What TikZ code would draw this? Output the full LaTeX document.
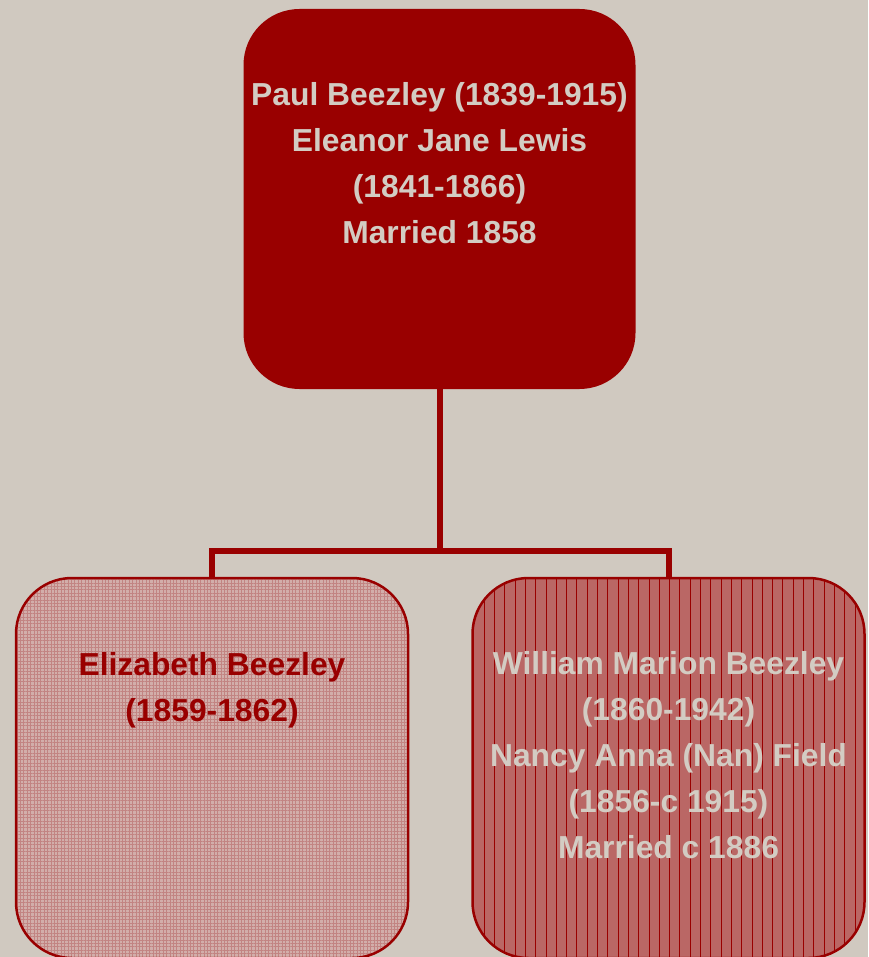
\documentclass[tikz,border=0pt]{standalone}
\usepackage{fontspec}
\setmainfont{Liberation Sans}
\usetikzlibrary{patterns.meta}
\definecolor{bg}{HTML}{D0C9C0}
\definecolor{dred}{HTML}{990000}
\definecolor{lighttxt}{HTML}{D3CCC3}
\definecolor{pinkbase}{HTML}{D2AEAA}
\definecolor{pinkline}{HTML}{C28482}
\definecolor{redbase}{HTML}{BA6765}
\tikzset{
  box/.style={rectangle, rounded corners=56pt, inner sep=0pt, outer sep=0pt,
    minimum width=392pt, minimum height=380pt},
  topbox/.style={box, fill=dred},
  gridbox/.style={box, preaction={fill=pinkbase},
    pattern={Hatch[angle=0, distance=3.4pt, line width=0.8pt]}, pattern color=pinkline,
    draw=dred, line width=2.5pt},
  stripebox/.style={box, preaction={fill=redbase},
    pattern={Lines[angle=90, distance=10.3pt, line width=0.8pt]}, pattern color=dred,
    draw=dred, line width=2.5pt},
  label/.style={align=center, inner sep=0pt, font=\fontsize{31.8}{46}\selectfont\bfseries},
  conn/.style={draw=dred, line width=6pt},
}
\begin{document}
\begin{tikzpicture}[x=1pt, y=-1pt]
\fill[bg] (0,0) rectangle (868,957);
\useasboundingbox (0,0) rectangle (868,957);
\node[topbox] (top) at (439.5,199) {};
\node[gridbox] (left) at (212,768) {};
\node[stripebox] (right) at (668.5,768) {};
\coordinate (j) at (439.5,551);
\draw[conn] (top.south) -- (j);
\draw[conn] (left.north) |- (j) -| (right.north);
\node[label, text=lighttxt] (toptext) at (439.5,163.5) {Paul Beezley (1839-1915)\\Eleanor Jane Lewis\\(1841-1866)\\Married 1858};
\node[label, text=dred] (lefttext) at (212,690) {Elizabeth Beezley\\(1859-1862)};
\node[label, text=lighttxt] (righttext) at (668.5,755.5) {William Marion Beezley\\(1860-1942)\\Nancy Anna (Nan) Field\\(1856-c 1915)\\Married c 1886};
\end{tikzpicture}
\end{document}
